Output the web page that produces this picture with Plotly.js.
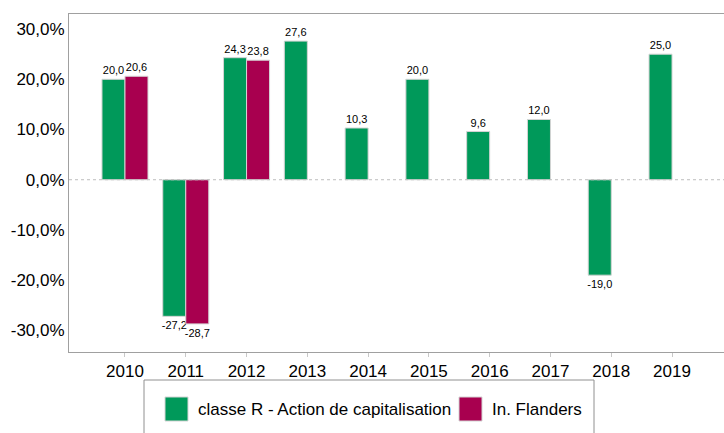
<!DOCTYPE html>
<html>
<head>
<meta charset="utf-8">
<script src="https://cdn.plot.ly/plotly-3.0.1.min.js"></script>
<style>html,body{margin:0;padding:0;background:#fff;}#chart{width:724px;height:433px;}</style>
</head>
<body>
<div id="chart"></div>
<script>
var years = ['2010','2011','2012','2013','2014','2015','2016','2017','2018','2019'];
var classeR = [20.0, -27.2, 24.3, 27.6, 10.3, 20.0, 9.6, 12.0, -19.0, 25.0];
var flanders = [20.6, -28.7, 23.8, null, null, null, null, null, null, null];
var seriesNames = ['classe R - Action de capitalisation', 'In. Flanders'];
var yTicks = [-30, -20, -10, 0, 10, 20, 30];
var yTickLabels = ['-30,0%', '-20,0%', '-10,0%', '0,0%', '10,0%', '20,0%', '30,0%'];

var green = '#00995a';
var red = '#a8004f';
var font = '"Liberation Sans", Arial, sans-serif';

function fmt(v){ return v === null ? '' : v.toFixed(1).replace('.', ','); }

function barTrace(vals, name, color){
  return {
    type: 'bar', x: years, y: vals, name: name,
    marker: {color: color, line: {color: '#d4d4d4', width: 1}},
    text: vals.map(fmt), textposition: 'outside', constraintext: 'none',
    cliponaxis: false,
    textfont: {family: font, size: 11, color: '#000'},
    hoverinfo: 'skip', showlegend: false
  };
}

var data = [barTrace(classeR, seriesNames[0], green), barTrace(flanders, seriesNames[1], red)];

// plot area in px: left 69, right 724, top 14, bottom 352
function px(x){ return (x - 69) / 655; }
function py(y){ return (352 - y) / 338; }

var shapes = [
  {type: 'line', xref: 'paper', yref: 'y', x0: 0, x1: 1, y0: 0, y1: 0,
   line: {color: '#bdbdbd', width: 1, dash: 'dot'}},
  {type: 'rect', xref: 'paper', yref: 'paper', x0: px(144), x1: px(594), y0: py(380), y1: py(445),
   line: {color: '#909090', width: 1}, fillcolor: 'rgba(0,0,0,0)'},
  {type: 'rect', xref: 'paper', yref: 'paper', x0: px(165), x1: px(188), y0: py(397), y1: py(421),
   line: {color: '#d4d4d4', width: 1}, fillcolor: green},
  {type: 'rect', xref: 'paper', yref: 'paper', x0: px(459), x1: px(482), y0: py(397), y1: py(421),
   line: {color: '#d4d4d4', width: 1}, fillcolor: red}
];

var annotations = [
  {xref: 'paper', yref: 'paper', x: px(196), y: py(409), xanchor: 'left', yanchor: 'middle',
   text: seriesNames[0], showarrow: false, font: {family: font, size: 17, color: '#000'}},
  {xref: 'paper', yref: 'paper', x: px(490), y: py(409), xanchor: 'left', yanchor: 'middle',
   text: seriesNames[1], showarrow: false, font: {family: font, size: 17, color: '#000'}}
];

var layout = {
  width: 724, height: 433,
  margin: {l: 69, r: 0, t: 14, b: 81},
  paper_bgcolor: '#fff', plot_bgcolor: '#fff',
  barmode: 'group', bargap: 0.243, bargroupgap: 0,
  showlegend: false,
  font: {family: font, color: '#000'},
  xaxis: {
    type: 'category', range: [-0.921, 9.855],
    showline: true, mirror: true, linecolor: '#a0a0a0', linewidth: 1,
    showgrid: false, zeroline: false,
    ticks: 'outside', ticklen: 4, tickcolor: '#c8c8c8',
    tickfont: {family: font, size: 17, color: '#000'}
  },
  yaxis: {
    range: [-34.3, 33.0],
    tickmode: 'array', tickvals: yTicks, ticktext: yTickLabels,
    showline: true, mirror: false, linecolor: '#a0a0a0', linewidth: 1,
    showgrid: false, zeroline: false, ticks: '',
    tickfont: {family: font, size: 17, color: '#000'}
  },
  shapes: shapes,
  annotations: annotations
};

Plotly.newPlot('chart', data, layout, {staticPlot: true, displayModeBar: false});
</script>
</body>
</html>
